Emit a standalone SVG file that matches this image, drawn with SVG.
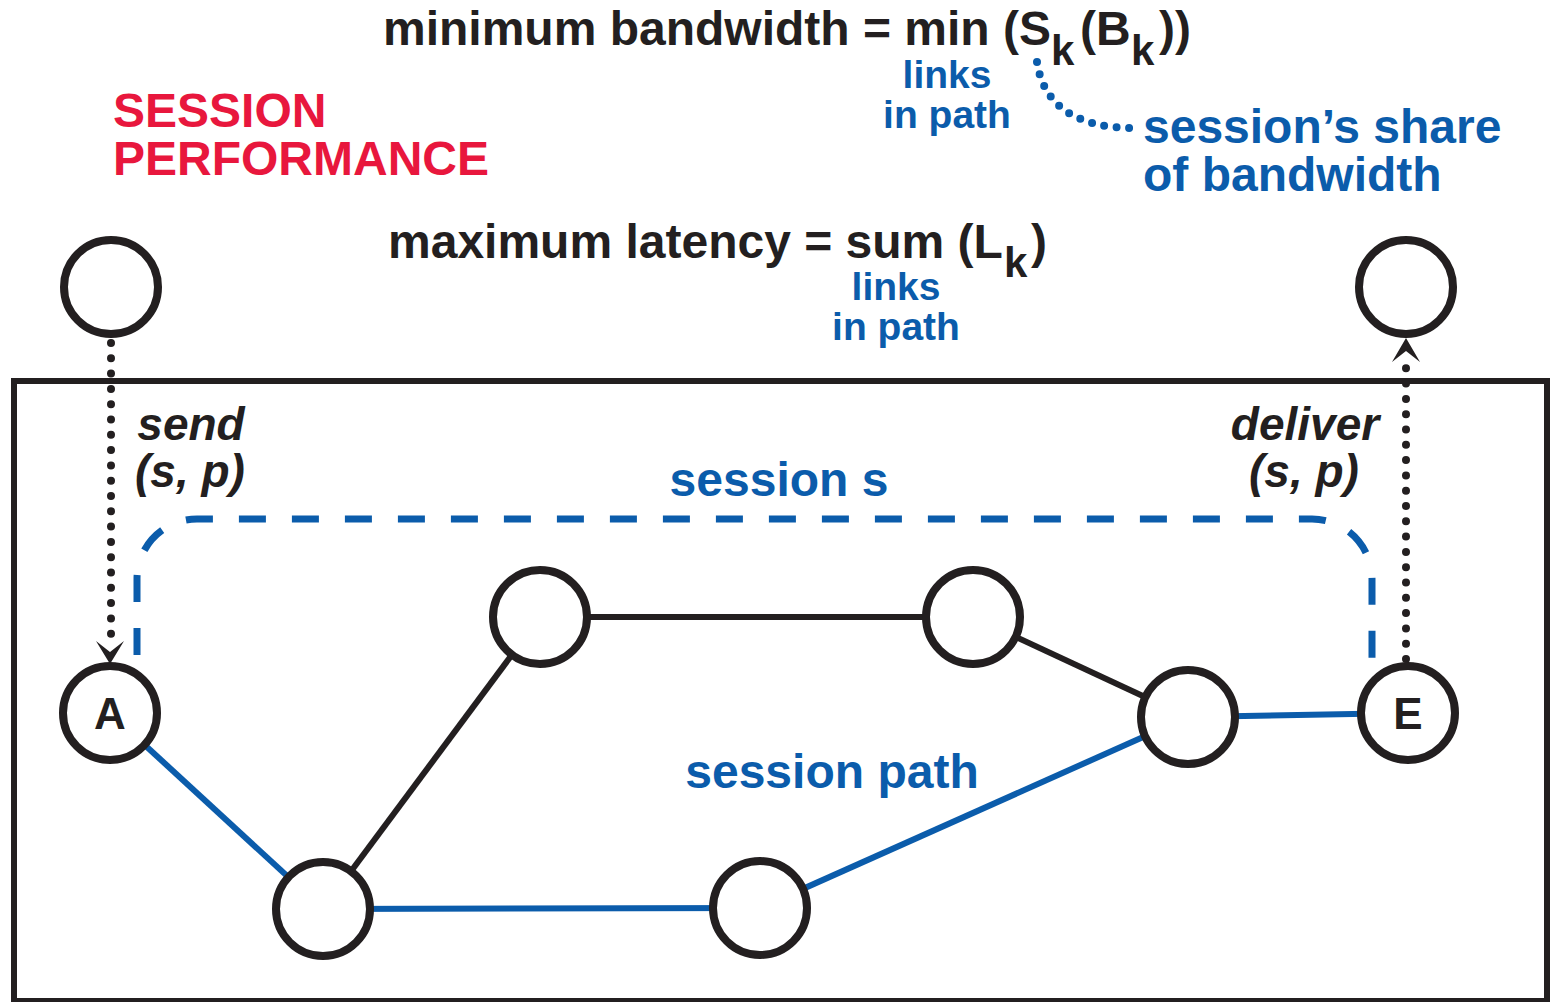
<svg xmlns="http://www.w3.org/2000/svg" width="1559" height="1002" viewBox="0 0 1559 1002">
  <defs>
    <style>
      text { font-family: "Liberation Sans", Arial, sans-serif; font-weight: bold; }
      .formula { font-size: 48px; fill: #231f20; }
      .sub { font-size: 42px; fill: #231f20; }
      .note { font-size: 39px; fill: #0b5cab; }
      .blue48 { font-size: 48px; fill: #0b5cab; }
      .title { font-size: 48px; fill: #e8173d; }
      .op { font-size: 46px; font-style: italic; fill: #231f20; }
      .node { fill: #ffffff; stroke: #231f20; stroke-width: 8; }
      .label { font-size: 44px; fill: #231f20; }
      .link-black { stroke: #231f20; stroke-width: 6; fill: none; }
      .link-blue { stroke: #0b5cab; stroke-width: 6; fill: none; }
      .dots { stroke: #231f20; stroke-width: 8; stroke-linecap: round; stroke-dasharray: 0 15.3; fill: none; }
      .dots-blue { stroke: #0b5cab; stroke-width: 8; stroke-linecap: round; stroke-dasharray: 0 12.5; fill: none; }
      .chevron { fill: #231f20; }
    </style>
  </defs>

  <!-- system boundary -->
  <rect x="14" y="381" width="1533" height="620" fill="none" stroke="#231f20" stroke-width="6"/>

  <!-- formulas -->
  <g id="bandwidth-formula">
    <text class="formula" x="383" y="45">minimum bandwidth = min (S<tspan class="sub" x="1051" y="65">k</tspan><tspan x="1080" y="45">(B</tspan><tspan class="sub" x="1131" y="65">k</tspan><tspan x="1159" y="45">))</tspan></text>
    <text class="note" x="947" y="88" text-anchor="middle">links</text>
    <text class="note" x="947" y="128" text-anchor="middle">in path</text>
  </g>
  <g id="share-note">
    <text class="blue48" x="1143" y="143">session’s share</text>
    <text class="blue48" x="1143" y="191">of bandwidth</text>
  </g>
  <g id="latency-formula">
    <text class="formula" x="388" y="258">maximum latency = sum (L<tspan class="sub" x="1004" y="277">k</tspan><tspan x="1031" y="258">)</tspan></text>
    <text class="note" x="896" y="300" text-anchor="middle">links</text>
    <text class="note" x="896" y="340" text-anchor="middle">in path</text>
  </g>
  <g id="title">
    <text class="title" x="113" y="127">SESSION</text>
    <text class="title" x="113" y="175">PERFORMANCE</text>
  </g>

  <!-- operation labels -->
  <g id="send-label">
    <text class="op" x="191" y="440" text-anchor="middle">send</text>
    <text class="op" x="190" y="487" text-anchor="middle">(s, p)</text>
  </g>
  <g id="deliver-label">
    <text class="op" x="1305" y="440" text-anchor="middle">deliver</text>
    <text class="op" x="1304" y="487" text-anchor="middle">(s, p)</text>
  </g>
  <g id="session-label">
    <text class="blue48" x="779" y="496" text-anchor="middle">session s</text>
  </g>
  <g id="path-label">
    <text class="blue48" x="832" y="788" text-anchor="middle">session path</text>
  </g>

  <!-- session boundary -->
  <path d="M137,655 L137,579 A60,60 0 0 1 197,519 L1312,519 A60,60 0 0 1 1372,579 L1372,665" fill="none" stroke="#0b5cab" stroke-width="7" stroke-dasharray="27 26"/>

  <!-- connectors -->
  <g id="connectors">
    <line class="link-blue" x1="110" y1="713" x2="323" y2="909"/>
    <line class="link-black" x1="323" y1="909" x2="540" y2="617"/>
    <line class="link-black" x1="540" y1="617" x2="973" y2="617"/>
    <line class="link-black" x1="973" y1="617" x2="1188" y2="717"/>
    <line class="link-blue" x1="323" y1="909" x2="760" y2="908"/>
    <line class="link-blue" x1="760" y1="908" x2="1188" y2="717"/>
    <line class="link-blue" x1="1188" y1="717" x2="1408" y2="713"/>
    <!-- send / deliver -->
    <path class="dots" d="M111,343 L111,648"/>
    <polygon class="chevron" points="110,664 96,641 110,652 124,641"/>
    <path class="dots" d="M1406,659 L1406,354"/>
    <polygon class="chevron" points="1406,338 1392,362 1406,351 1420,362"/>
    <!-- share pointer -->
    <path class="dots-blue" d="M1037,62 C1043,104 1075,128 1133,128"/>
  </g>

  <!-- nodes -->
  <g id="node-source"><circle class="node" cx="111" cy="287" r="47"/></g>
  <g id="node-sink"><circle class="node" cx="1406" cy="287" r="47"/></g>
  <g id="node-A">
    <circle class="node" cx="110" cy="713" r="47"/>
    <text class="label" x="110" y="729" text-anchor="middle">A</text>
  </g>
  <g id="node-b1"><circle class="node" cx="323" cy="909" r="47"/></g>
  <g id="node-m1"><circle class="node" cx="540" cy="617" r="47"/></g>
  <g id="node-m2"><circle class="node" cx="973" cy="617" r="47"/></g>
  <g id="node-b2"><circle class="node" cx="760" cy="908" r="47"/></g>
  <g id="node-r"><circle class="node" cx="1188" cy="717" r="47"/></g>
  <g id="node-E">
    <circle class="node" cx="1408" cy="713" r="47"/>
    <text class="label" x="1408" y="729" text-anchor="middle">E</text>
  </g>
</svg>
